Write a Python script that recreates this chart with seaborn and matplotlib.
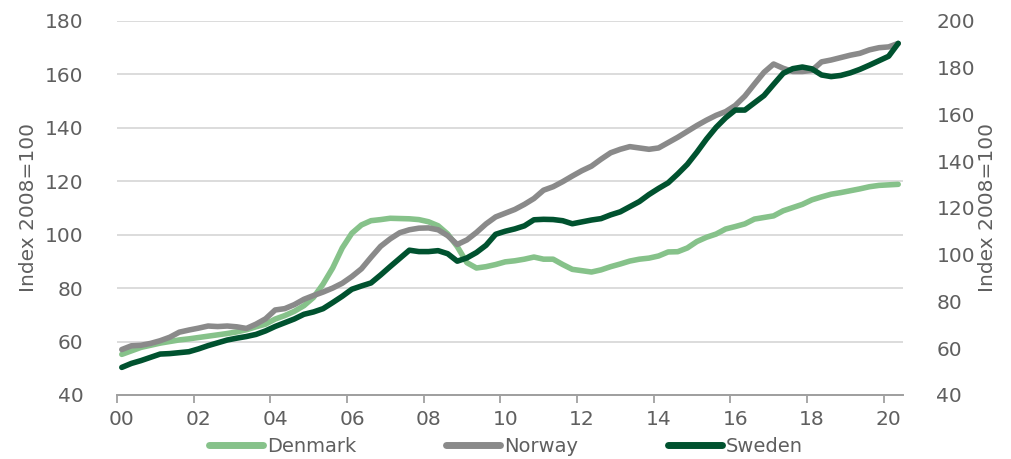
import numpy as np
import pandas as pd
import matplotlib
matplotlib.use("Agg")
import matplotlib.pyplot as plt
import matplotlib.transforms as mtransforms
from matplotlib.lines import Line2D
import seaborn as sns

# quarterly house price index, 2008=100, 2000Q1 - 2020Q2
quarters = pd.period_range("2000Q1", "2020Q2", freq="Q")

denmark = [55.2, 56.5, 57.8, 58.6, 59.4, 60.0, 60.6, 61.0, 61.5, 62.0, 62.5, 63.0,
           63.6, 64.4, 65.5, 66.5, 68.4, 69.7, 71.3, 73.4, 76.5, 81.5, 87.5, 95.0,
           100.5, 103.6, 105.2, 105.6, 106.1, 106.0, 105.9, 105.6, 104.8, 103.3, 100.2, 95.5,
           89.5, 87.5, 88.0, 88.8, 89.8, 90.2, 90.8, 91.6, 90.8, 90.8, 88.8, 87.0,
           86.5, 86.0, 86.8, 88.0, 89.0, 90.1, 90.8, 91.2, 92.0, 93.5, 93.6, 95.0,
           97.4, 99.0, 100.2, 102.1, 103.0, 104.0, 105.8, 106.4, 107.0, 108.9, 110.1, 111.3,
           113.0, 114.1, 115.1, 115.7, 116.4, 117.1, 117.9, 118.4, 118.6, 118.8]

norway = [57.0, 58.4, 58.6, 59.3, 60.3, 61.6, 63.5, 64.3, 65.0, 65.8, 65.6, 65.8,
          65.5, 64.9, 66.5, 68.5, 71.8, 72.3, 73.8, 75.8, 77.2, 78.5, 80.0, 81.8,
          84.3, 87.2, 91.5, 95.6, 98.4, 100.7, 101.8, 102.4, 102.5, 101.8, 99.6, 96.3,
          98.0, 100.8, 104.0, 106.6, 108.0, 109.4, 111.3, 113.5, 116.6, 117.9, 119.8, 121.9,
          123.9, 125.6, 128.2, 130.6, 131.9, 132.9, 132.4, 131.9, 132.4, 134.4, 136.4, 138.6,
          140.8, 142.8, 144.6, 146.0, 148.3, 151.8, 156.3, 160.7, 163.8, 162.2, 161.0, 161.0,
          161.4, 164.6, 165.3, 166.2, 167.1, 167.8, 169.1, 169.9, 170.2, 171.5]

# Sweden is plotted on the right axis
sweden = [51.8, 53.5, 54.7, 56.1, 57.5, 57.7, 58.1, 58.5, 59.7, 61.1, 62.3, 63.5,
          64.3, 65.0, 65.9, 67.4, 69.3, 70.9, 72.5, 74.5, 75.5, 76.9, 79.5, 82.2,
          85.2, 86.6, 87.9, 91.3, 94.9, 98.4, 101.9, 101.3, 101.3, 101.7, 100.4, 97.2,
          98.6, 100.9, 104.0, 108.7, 110.0, 111.0, 112.3, 114.9, 115.1, 115.0, 114.5, 113.2,
          114.0, 114.8, 115.4, 117.0, 118.3, 120.5, 122.7, 125.7, 128.3, 130.7, 134.5, 138.6,
          143.8, 149.4, 154.4, 158.5, 161.8, 161.8, 164.9, 168.0, 172.8, 177.5, 179.5, 180.2,
          179.4, 176.8, 176.1, 176.6, 177.7, 179.2, 181.0, 182.9, 184.8, 190.3]

x_ticks = list(range(2000, 2021, 2))
x_labels = [f"{y % 100:02d}" for y in x_ticks]
left_ticks = list(range(40, 181, 20))
right_ticks = list(range(40, 201, 20))

colors = {"Denmark": "#86c28a", "Norway": "#8a8a8a", "Sweden": "#00522f"}
text_col = "#5f5f5f"

t = quarters.year + (quarters.quarter - 1) * 0.25 + 0.125
df_left = pd.DataFrame({"t": np.tile(t, 2),
                        "value": denmark + norway,
                        "country": ["Denmark"] * len(t) + ["Norway"] * len(t)})
df_right = pd.DataFrame({"t": t, "value": sweden, "country": "Sweden"})

sns.set_theme(style="white")
plt.rcParams["font.family"] = ["DejaVu Sans"]

fig = plt.figure(figsize=(10.12, 4.59), dpi=100)
ax = fig.add_axes([117 / 1012, 1 - 395 / 459, (903 - 117) / 1012, (395 - 20.7) / 459])
ax2 = ax.twinx()

sns.lineplot(data=df_left, x="t", y="value", hue="country", palette=colors,
             linewidth=4, ax=ax, legend=False)
sns.lineplot(data=df_right, x="t", y="value", color=colors["Sweden"],
             linewidth=4, ax=ax2, legend=False)

ax.set_xlim(2000, 2020.5)
ax.set_ylim(40, 180)
ax2.set_ylim(40, 200)
ax.set_xticks(x_ticks)
ax.set_xticklabels(x_labels)
ax.set_yticks(left_ticks)
ax2.set_yticks(right_ticks)

ax.grid(axis="y", color="#d9d9d9", linewidth=1.3)
ax.set_axisbelow(True)
for a in (ax, ax2):
    for s in ("top", "left", "right"):
        a.spines[s].set_visible(False)
    a.spines["bottom"].set_color("#a0a0a0")
    a.spines["bottom"].set_linewidth(1.3)
    a.set_xlabel("")

fs = 14.5
ax.tick_params(axis="x", bottom=True, length=6, width=1.3, color="#a0a0a0",
               labelsize=fs, labelcolor=text_col, pad=5)
ax.tick_params(axis="y", left=False, labelsize=fs, labelcolor=text_col, pad=18)
ax2.tick_params(axis="y", right=False, labelsize=fs, labelcolor=text_col, pad=18)

# year labels sit a little right of their tick marks
shift = mtransforms.ScaledTranslation(5 / 100, 0, fig.dpi_scale_trans)
for lab in ax.get_xticklabels():
    lab.set_transform(lab.get_transform() + shift)

ax.set_ylabel("Index 2008=100", fontsize=fs, color=text_col, labelpad=5)
ax2.set_ylabel("Index 2008=100", fontsize=fs, color=text_col, labelpad=2)

handles = [Line2D([], [], color=colors[c], linewidth=5, solid_capstyle="round")
           for c in ["Denmark", "Norway", "Sweden"]]
fig.legend(handles, ["Denmark", "Norway", "Sweden"], loc="lower center",
           bbox_to_anchor=(0.5, -0.014), ncol=3, frameon=False, fontsize=14,
           labelcolor=text_col, handlelength=2.8, handletextpad=0.2,
           columnspacing=4.6, borderpad=0.0)

fig.savefig("out.png", dpi=100)
